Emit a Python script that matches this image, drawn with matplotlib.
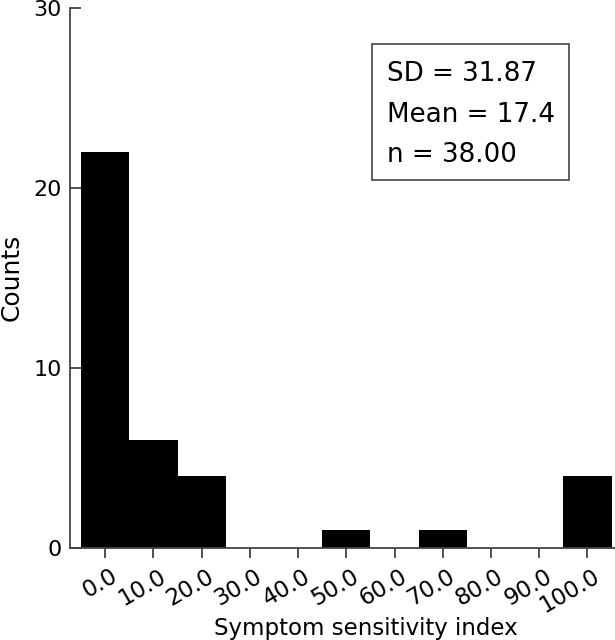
import matplotlib.pyplot as plt
import matplotlib.transforms as mtransforms
from matplotlib.patches import Rectangle

plt.rcParams['font.family'] = ['DejaVu Sans']

# histogram bins (centres) and counts
bins = [0, 10, 20, 30, 40, 50, 60, 70, 80, 90, 100]
counts = [22, 6, 4, 0, 0, 1, 0, 1, 0, 0, 4]
tick_labels = ['%.1f' % b for b in bins]
stats = ['SD = 31.87', 'Mean = 17.4', 'n = 38.00']

fig = plt.figure(figsize=(6.15, 6.4), dpi=100)
ax = fig.add_axes([0.1138, 0.144, 0.886, 0.844])

ax.bar(bins, counts, width=10, color='black', edgecolor='black', linewidth=0)

ax.set_xlim(-7.3, 105.7)
ax.set_ylim(0, 30)
ax.set_yticks([0, 10, 20, 30])
ax.set_xticks(bins)
ax.set_xticklabels(tick_labels, rotation=30, ha='right', va='top',
                   rotation_mode='anchor')

ax.spines['top'].set_visible(False)
ax.spines['right'].set_visible(False)
for s in ['left', 'bottom']:
    ax.spines[s].set_color('#444444')
    ax.spines[s].set_linewidth(1.3)

ax.tick_params(axis='y', direction='in', length=8, width=1.3, color='#444444',
               labelsize=16, pad=6)
ax.tick_params(axis='x', direction='out', length=7, width=1.3, color='#444444',
               labelsize=16.5, pad=5)

# nudge x tick labels a little to the right
shift = mtransforms.ScaledTranslation(5 / 100, 0, fig.dpi_scale_trans)
for lab in ax.get_xticklabels():
    lab.set_transform(lab.get_transform() + shift)

ax.set_xlabel('Symptom sensitivity index', fontsize=16.5, labelpad=0, x=0.543)
ax.set_ylabel('Counts', fontsize=18, labelpad=7)

# stats box
ax.add_patch(Rectangle((0.6049, 0.7188), 0.3203, 0.2125, transform=fig.transFigure,
                       facecolor='white', edgecolor='#444444', linewidth=1.2,
                       zorder=5))
for txt, yb in zip(stats, [0.8734, 0.8094, 0.7469]):
    ax.text(0.629, yb, txt, transform=fig.transFigure, fontsize=18.8,
            va='baseline', ha='left', zorder=6)

fig.savefig('out.png', dpi=100)
